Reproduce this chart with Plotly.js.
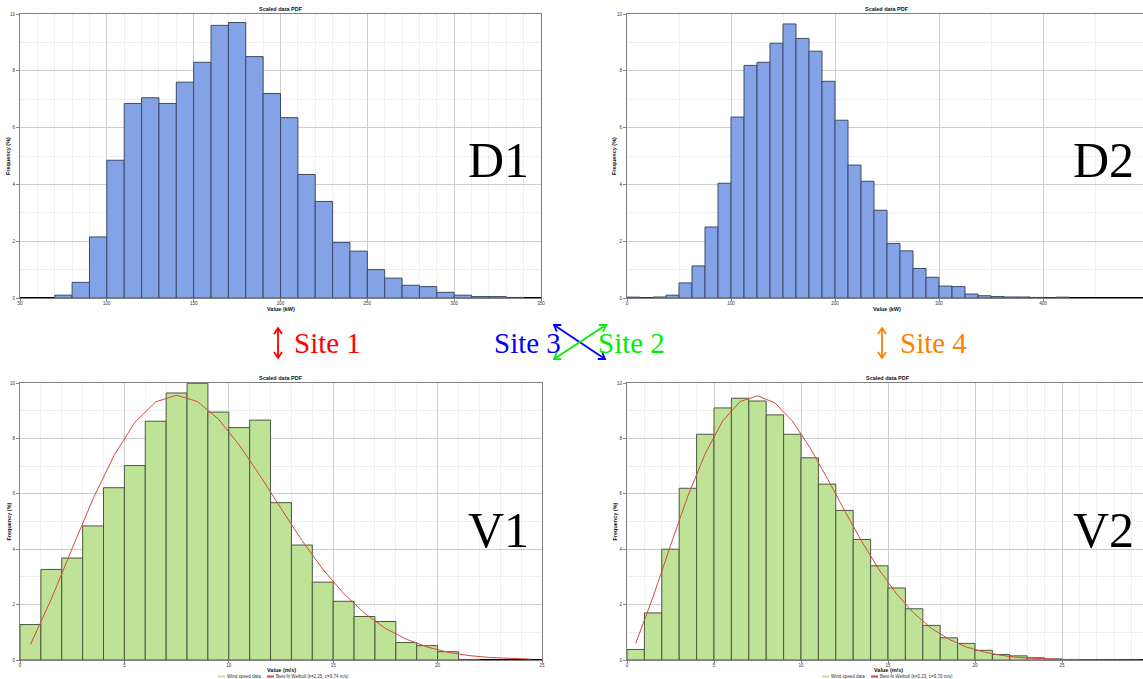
<!DOCTYPE html>
<html>
<head>
<meta charset="utf-8">
<script src="https://cdn.plot.ly/plotly-3.0.1.min.js"></script>
<style>
  html, body { margin: 0; padding: 0; overflow: hidden; background: #ffffff; }
  #chart { width: 1150px; height: 679px; }
</style>
</head>
<body>
<div id="chart"></div>
<script>
// ---- D1: scaled power histogram, 10 kW bins (lower bin edges) ----
const d1BinStart = [70, 80, 90, 100, 110, 120, 130, 140, 150, 160, 170, 180, 190, 200,
                    210, 220, 230, 240, 250, 260, 270, 280, 290, 300, 310, 320, 330];
const d1Freq = [0.10, 0.55, 2.15, 4.85, 6.85, 7.05, 6.85, 7.60, 8.30, 9.60, 9.70, 8.50, 7.20, 6.35,
                4.35, 3.40, 1.95, 1.65, 1.00, 0.70, 0.45, 0.40, 0.20, 0.10, 0.05, 0.05, 0.02];

// ---- D2: scaled power histogram, 12.5 kW bins (lower bin edges) ----
const d2BinStart = [0, 12.5, 25, 37.5, 50, 62.5, 75, 87.5, 100, 112.5, 125, 137.5, 150, 162.5,
                    175, 187.5, 200, 212.5, 225, 237.5, 250, 262.5, 275, 287.5, 300, 312.5,
                    325, 337.5, 350, 362.5, 375, 387.5, 400, 412.5];
const d2Freq = [0.03, 0, 0.035, 0.10, 0.53, 1.13, 2.50, 4.04, 6.37, 8.19, 8.30, 8.97, 9.65, 9.14,
                8.69, 7.63, 6.26, 4.68, 4.11, 3.09, 1.92, 1.66, 1.04, 0.73, 0.42, 0.40,
                0.14, 0.08, 0.05, 0.035, 0.035, 0.02, 0, 0.03];

// ---- V1: wind speed histogram, 1 m/s bins, plus fitted Weibull curve ----
const v1BinStart = [0, 1, 2, 3, 4, 5, 6, 7, 8, 9, 10, 11, 12, 13, 14, 15, 16, 17, 18, 19, 20, 21];
const v1Freq = [1.28, 3.27, 3.68, 4.84, 6.22, 7.02, 8.62, 9.64, 9.99, 8.95, 8.39, 8.66,
                5.68, 4.15, 2.81, 2.12, 1.57, 1.39, 0.63, 0.52, 0.30, 0.02];
const v1FitX = [0.5, 1.5, 2.5, 3.5, 4.5, 5.5, 6.5, 7.5, 8.5, 9.5, 10.5, 11.5, 12.5,
                13.5, 14.5, 15.5, 16.5, 17.5, 18.5, 19.5, 20.5, 21.5, 22.5, 23.5, 24.5];
const v1FitY = [0.56, 2.20, 4.03, 5.82, 7.38, 8.58, 9.32, 9.56, 9.33, 8.70, 7.76, 6.65, 5.47,
                4.32, 3.28, 2.40, 1.69, 1.14, 0.75, 0.47, 0.28, 0.16, 0.09, 0.05, 0.03];
const v1FitName = 'Best-fit Weibull (k=2.25, c=9.74 m/s)';

// ---- V2: wind speed histogram, 1 m/s bins, plus fitted Weibull curve ----
const v2BinStart = [0, 1, 2, 3, 4, 5, 6, 7, 8, 9, 10, 11, 12, 13, 14, 15, 16, 17, 18, 19,
                    20, 21, 22, 23, 24, 25];
const v2Freq = [0.38, 1.70, 4.00, 6.20, 8.15, 9.10, 9.45, 9.35, 8.85, 8.15, 7.30, 6.35, 5.40,
                4.35, 3.40, 2.60, 1.85, 1.25, 0.80, 0.60, 0.35, 0.20, 0.15, 0.08, 0.04, 0.02];
const v2FitX = [0.5, 1.5, 2.5, 3.5, 4.5, 5.5, 6.5, 7.5, 8.5, 9.5, 10.5, 11.5, 12.5, 13.5, 14.5,
                15.5, 16.5, 17.5, 18.5, 19.5, 20.5, 21.5, 22.5, 23.5, 24.5, 25.5, 26.5, 27.5,
                28.5, 29.5];
const v2FitY = [0.60, 2.28, 4.13, 5.92, 7.46, 8.63, 9.33, 9.54, 9.28, 8.63, 7.68, 6.57, 5.40,
                4.27, 3.25, 2.38, 1.68, 1.14, 0.75, 0.47, 0.29, 0.17, 0.09, 0.05, 0.03, 0.01,
                0.01, 0, 0, 0];
const v2FitName = 'Best-fit Weibull (k=2.23, c=9.70 m/s)';

// ---- labels ----
const plotTitle = 'Scaled data PDF';
const yTitle = 'Frequency (%)';
const powerTitle = 'Value (kW)';
const speedTitle = 'Value (m/s)';
const barName = 'Wind speed data';
const panelTags = ['D1', 'D2', 'V1', 'V2'];
const siteLabels = ['Site 1', 'Site 3', 'Site 2', 'Site 4'];

// ---- page geometry (pixels) ----
const W = 1150, H = 679;
const px = v => v / W;
const py = v => 1 - v / H;

const boxes = {
  d1: { x0: 20,  x1: 541,  y0: 14,  y1: 298, xTitle: powerTitle, xTitleY: 309, yTitleX: 8 },
  d2: { x0: 627, x1: 1147, y0: 14,  y1: 298, xTitle: powerTitle, xTitleY: 309, yTitleX: 614 },
  v1: { x0: 20,  x1: 542,  y0: 383, y1: 660, xTitle: speedTitle, xTitleY: 670, yTitleX: 8 },
  v2: { x0: 627, x1: 1149, y0: 383, y1: 660, xTitle: speedTitle, xTitleY: 670, yTitleX: 614 }
};

const SANS = 'Liberation Sans, Arial, sans-serif';
const SERIF = 'Liberation Serif, DejaVu Serif, serif';
const SMALL = { family: SANS, size: 5, color: '#333333' };
const TINY = { family: SANS, size: 4.5, color: '#333333' };
const SMALL_BOLD = { family: SANS, size: 5.5, color: '#111111', weight: 'bold' };

function xAxis(box, range, dtick, minorStep, anchor) {
  return {
    domain: [px(box.x0), px(box.x1)], range: range, anchor: anchor,
    tick0: 0, dtick: dtick, ticks: 'outside', ticklen: 2, tickcolor: '#888888',
    ticklabelstandoff: -1,
    showgrid: true, gridcolor: '#cdcdcd', gridwidth: 1,
    minor: { dtick: minorStep, showgrid: true, gridcolor: '#efefef', gridwidth: 1 },
    showline: true, linecolor: '#808080', linewidth: 1, mirror: true,
    zeroline: false, tickfont: TINY, fixedrange: true
  };
}

function yAxis(box, anchor) {
  return {
    domain: [py(box.y1), py(box.y0)], range: [0, 10], anchor: anchor,
    tick0: 0, dtick: 2, ticks: 'outside', ticklen: 3, tickcolor: '#888888',
    showgrid: true, gridcolor: '#cdcdcd', gridwidth: 1,
    minor: { dtick: 1, showgrid: true, gridcolor: '#efefef', gridwidth: 1 },
    showline: true, linecolor: '#808080', linewidth: 1, mirror: true,
    zeroline: true, zerolinecolor: '#000000', zerolinewidth: 2,
    tickfont: TINY, fixedrange: true
  };
}

const greenFill = '#bfe396';
const fitColor = '#d7483c';
const blueBar = { color: '#84a3e6', line: { color: '#3b4a6a', width: 1 } };
const greenBar = { color: greenFill, line: { color: '#4a5840', width: 1 } };
const fitLine = { color: fitColor, width: 1 };

const traces = [
  { type: 'bar', x: d1BinStart, y: d1Freq, width: 10, offset: 0, marker: blueBar,
    xaxis: 'x', yaxis: 'y' },
  { type: 'bar', x: d2BinStart, y: d2Freq, width: 12.5, offset: 0, marker: blueBar,
    xaxis: 'x2', yaxis: 'y2' },
  { type: 'bar', x: v1BinStart, y: v1Freq, width: 1, offset: 0, marker: greenBar,
    xaxis: 'x3', yaxis: 'y3', name: barName },
  { type: 'scatter', mode: 'lines', x: v1FitX, y: v1FitY, line: fitLine,
    xaxis: 'x3', yaxis: 'y3', name: v1FitName },
  { type: 'bar', x: v2BinStart, y: v2Freq, width: 1, offset: 0, marker: greenBar,
    xaxis: 'x4', yaxis: 'y4', name: barName },
  { type: 'scatter', mode: 'lines', x: v2FitX, y: v2FitY, line: fitLine,
    xaxis: 'x4', yaxis: 'y4', name: v2FitName }
];
traces.forEach(t => { t.showlegend = false; t.hoverinfo = 'skip'; });

const annotations = [];
const shapes = [];

// subplot titles and axis titles
Object.values(boxes).forEach(b => {
  annotations.push({
    xref: 'paper', yref: 'paper', x: px((b.x0 + b.x1) / 2), y: py(b.y0 - 1),
    xanchor: 'center', yanchor: 'bottom', showarrow: false,
    text: plotTitle, font: SMALL_BOLD, borderpad: 0
  });
  annotations.push({
    xref: 'paper', yref: 'paper', x: px((b.x0 + b.x1) / 2), y: py(b.xTitleY),
    xanchor: 'center', yanchor: 'middle', showarrow: false,
    text: b.xTitle, font: SMALL_BOLD, borderpad: 0
  });
  annotations.push({
    xref: 'paper', yref: 'paper', x: px(b.yTitleX), y: py((b.y0 + b.y1) / 2),
    xanchor: 'center', yanchor: 'middle', showarrow: false, textangle: -90,
    text: yTitle, font: SMALL_BOLD, borderpad: 0
  });
});

// large panel tags
const tagPos = [[498, 160], [1103, 160], [498, 530], [1103, 530]];
panelTags.forEach((t, i) => {
  annotations.push({
    xref: 'paper', yref: 'paper', x: px(tagPos[i][0]), y: py(tagPos[i][1]),
    xanchor: 'center', yanchor: 'middle', showarrow: false, text: t,
    font: { family: SERIF, size: 50, color: '#000000' }
  });
});

// compact legends under the wind speed panels
function legendRow(x, y, fitName) {
  const items = [[greenFill, barName, 40], [fitColor, fitName, 0]];
  let cx = x;
  items.forEach(([col, label, advance]) => {
    shapes.push({ type: 'line', xref: 'paper', yref: 'paper',
      x0: px(cx), x1: px(cx + 7), y0: py(y), y1: py(y), line: { color: col, width: 2 } });
    annotations.push({ xref: 'paper', yref: 'paper', x: px(cx + 8), y: py(y),
      xanchor: 'left', yanchor: 'middle', showarrow: false, text: label,
      font: TINY, borderpad: 0 });
    cx += 9 + advance;
  });
}
legendRow(218, 676.5, v1FitName);
legendRow(822, 676.5, v2FitName);

// site labels between the panel rows
const siteColors = ['#ff0000', '#0000ff', '#00ee00', '#ff8000'];
const sitePos = [[292, 'left'], [563, 'right'], [596, 'left'], [898, 'left']];
siteLabels.forEach((t, i) => {
  annotations.push({
    xref: 'paper', yref: 'paper', x: px(sitePos[i][0]), y: py(343),
    xanchor: sitePos[i][1], yanchor: 'middle', showarrow: false, text: t,
    font: { family: SERIF, size: 29, color: siteColors[i] }
  });
});

// double-headed arrows drawn as paper-space shapes
function arrowShapes(x0, y0, x1, y1, color) {
  const dx = x1 - x0, dy = y1 - y0, len = Math.hypot(dx, dy);
  const ux = dx / len, uy = dy / len, nx = -uy, ny = ux;
  const L = 6, Wd = 4;
  const P = (x, y) => px(x) + ',' + py(y);
  const head = (hx, hy, sx, sy) =>
    'M' + P(hx - sx * L + nx * Wd, hy - sy * L + ny * Wd) +
    'L' + P(hx, hy) +
    'L' + P(hx - sx * L - nx * Wd, hy - sy * L - ny * Wd);
  const line = { color: color, width: 1.8 };
  return [
    { type: 'line', xref: 'paper', yref: 'paper', x0: px(x0), y0: py(y0), x1: px(x1), y1: py(y1), line: line },
    { type: 'path', xref: 'paper', yref: 'paper', path: head(x1, y1, ux, uy), line: line },
    { type: 'path', xref: 'paper', yref: 'paper', path: head(x0, y0, -ux, -uy), line: line }
  ];
}
shapes.push(...arrowShapes(278, 328, 278, 358, '#ff0000'));
shapes.push(...arrowShapes(554, 325, 605, 359, '#0000ff'));
shapes.push(...arrowShapes(554, 359, 606, 325, '#00ee00'));
shapes.push(...arrowShapes(882, 328, 882, 358, '#ff8000'));

const layout = {
  width: W, height: H,
  margin: { l: 0, r: 0, t: 0, b: 0, pad: 0 },
  paper_bgcolor: '#ffffff', plot_bgcolor: '#ffffff',
  font: { family: SANS, size: 5, color: '#333333' },
  showlegend: false,
  bargap: 0, barmode: 'overlay',
  xaxis:  xAxis(boxes.d1, [50, 350], 50, 10, 'y'),
  yaxis:  yAxis(boxes.d1, 'x'),
  xaxis2: xAxis(boxes.d2, [0, 500], 100, 50, 'y2'),
  yaxis2: yAxis(boxes.d2, 'x2'),
  xaxis3: xAxis(boxes.v1, [0, 25], 5, 1, 'y3'),
  yaxis3: yAxis(boxes.v1, 'x3'),
  xaxis4: xAxis(boxes.v2, [0, 30], 5, 1, 'y4'),
  yaxis4: yAxis(boxes.v2, 'x4'),
  annotations: annotations,
  shapes: shapes
};

Plotly.newPlot('chart', traces, layout, { staticPlot: true, displayModeBar: false });
</script>
</body>
</html>
